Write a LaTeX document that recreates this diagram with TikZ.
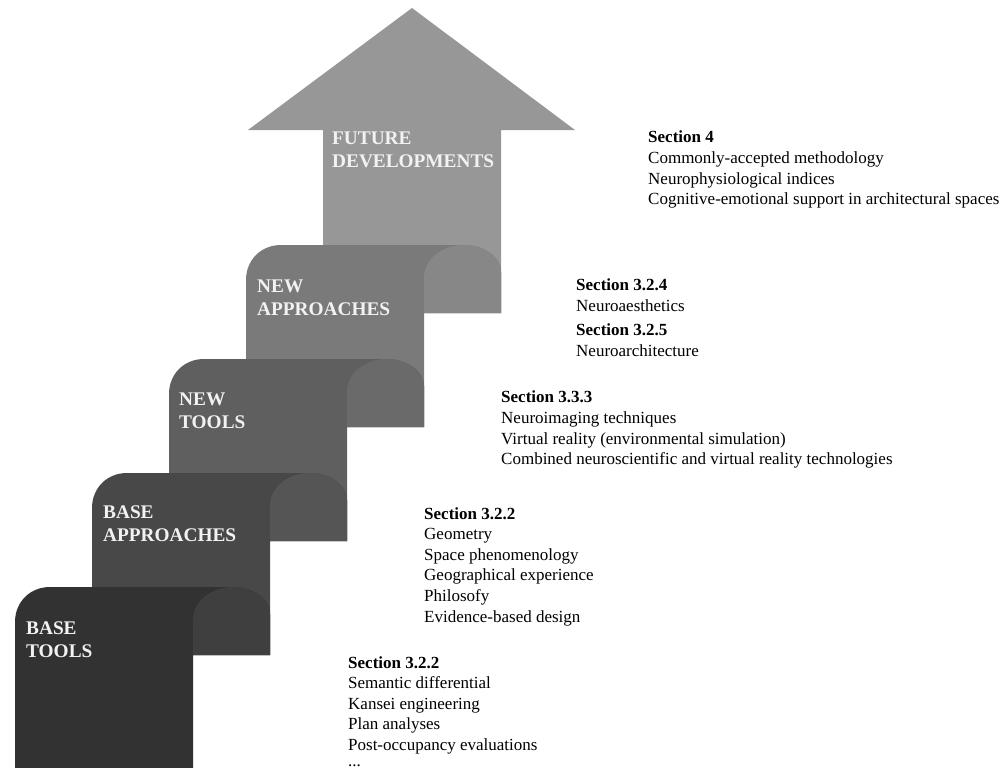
\documentclass[tikz,border=0pt]{standalone}
\usepackage{fontspec}
\setmainfont{Liberation Serif}
\definecolor{sAd}{HTML}{323232}
\definecolor{sAl}{HTML}{3F3F3F}
\definecolor{sBd}{HTML}{484848}
\definecolor{sBl}{HTML}{555555}
\definecolor{sCd}{HTML}{5F5F5F}
\definecolor{sCl}{HTML}{6A6A6A}
\definecolor{sDd}{HTML}{7A7A7A}
\definecolor{sDl}{HTML}{878787}
\definecolor{arrowc}{HTML}{979797}
\definecolor{labelc}{HTML}{F2F2F2}
\newcommand{\stairstep}[5]{%
  \fill[#4] (#1,#3) -- (#1,#2+35) .. controls (#1,#2+15) and (#1+15,#2) .. (#1+35,#2)
    -- (#1+218,#2) .. controls (#1+238,#2) and (#1+255,#2+12) .. (#1+255,#2+27)
    -- (#1+255,#2+68) -- (#1+178,#2+68) -- (#1+178,#3) -- cycle;
  \fill[#5] (#1+178,#2+68) -- (#1+178,#2+33) .. controls (#1+178,#2+15) and (#1+195,#2) .. (#1+218,#2)
    .. controls (#1+238,#2) and (#1+255,#2+12) .. (#1+255,#2+27) -- (#1+255,#2+68) -- cycle;
}
\tikzset{
  lbl/.style={anchor=north west, inner sep=0pt, align=left, text=labelc,
    font=\bfseries\fontsize{19.3}{23}\selectfont},
  desc/.style={anchor=north west, inner sep=0pt, align=left,
    font=\fontsize{17}{20.6}\selectfont}
}
\begin{document}
\begin{tikzpicture}[x=1pt,y=-1pt]
\useasboundingbox (0,0) rectangle (1002,768);
% arrow
\fill[arrowc] (323,313) -- (323,130) -- (248,130) -- (412,8) -- (575,130) -- (501,130) -- (501,313) -- cycle;
% steps
\stairstep{246}{245}{427}{sDd}{sDl}
\stairstep{169}{359}{541}{sCd}{sCl}
\stairstep{92}{473}{655}{sBd}{sBl}
\stairstep{15}{587}{768}{sAd}{sAl}
% labels
\node[lbl] (future) at (332,132) {FUTURE\\DEVELOPMENTS};
\node[lbl] (newapp) at (257,280) {NEW\\APPROACHES};
\node[lbl] (newtools) at (179,393) {NEW\\TOOLS};
\node[lbl] (baseapp) at (103,506) {BASE\\APPROACHES};
\node[lbl] (basetools) at (26,622) {BASE\\TOOLS};
% descriptions
\node[desc] (d4) at (648,131) {\textbf{Section 4}\\Commonly-accepted methodology\\Neurophysiological indices\\Cognitive-emotional support in architectural spaces};
\node[desc] (d324) at (576,279) {\textbf{Section 3.2.4}\\Neuroaesthetics};
\node[desc] (d325) at (576,324) {\textbf{Section 3.2.5}\\Neuroarchitecture};
\node[desc] (d333) at (501,391) {\textbf{Section 3.3.3}\\Neuroimaging techniques\\Virtual reality (environmental simulation)\\Combined neuroscientific and virtual reality technologies};
\node[desc] (d322a) at (424,507) {\textbf{Section 3.2.2}\\Geometry\\Space phenomenology\\Geographical experience\\Philosofy\\Evidence-based design};
\node[desc] (d322b) at (348,656) {\textbf{Section 3.2.2}\\Semantic differential\\Kansei engineering\\Plan analyses\\Post-occupancy evaluations\\[-5pt]...};
\end{tikzpicture}
\end{document}
